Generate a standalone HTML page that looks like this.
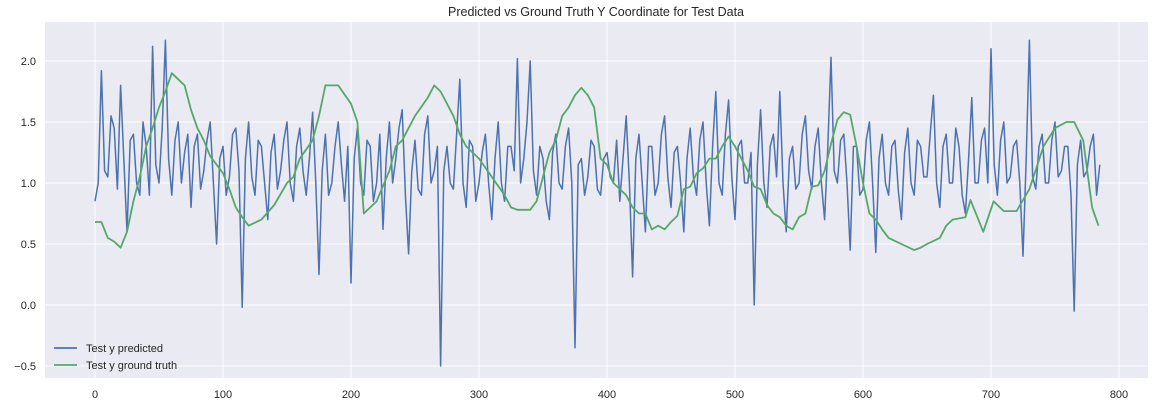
<!DOCTYPE html>
<html><head><meta charset="utf-8"><style>
html,body{margin:0;padding:0;background:#fff;}
svg{display:block;font-family:"Liberation Sans",Arial,sans-serif;}
</style></head><body>
<svg id="chart" width="1171" height="416">
<text x="596" y="16" text-anchor="middle" font-size="12.5" fill="#262626">Predicted vs Ground Truth Y Coordinate for Test Data</text>
<rect x="45" y="22" width="1103" height="356" fill="#EAEAF2"/>
<g id="grid"></g><g id="ticks"></g>
<g id="series"></g>
<g>
<line x1="54" y1="348" x2="77" y2="348" stroke="#4C72B0" stroke-width="1.8"/>
<text x="86" y="352" font-size="11" fill="#262626">Test y predicted</text>
<line x1="54" y1="365" x2="77" y2="365" stroke="#55A868" stroke-width="1.8"/>
<text x="86" y="369" font-size="11" fill="#262626">Test y ground truth</text>
</g>
</svg>
<script>
const xTicks=[0,100,200,300,400,500,600,700,800];
const yTicks=[-0.5,0.0,0.5,1.0,1.5,2.0];
const yTickLabels=["−0.5","0.0","0.5","1.0","1.5","2.0"];
const predStep=2.5;
const predicted=[0.85,1.0,1.92,1.1,1.05,1.55,1.45,0.95,1.8,1.2,0.6,1.35,1.4,1.0,0.9,1.5,1.3,0.9,2.12,1.15,1.0,1.45,2.17,1.2,0.9,1.35,1.5,1.0,1.25,1.4,0.8,1.3,1.4,0.95,1.1,1.35,1.5,1.0,0.5,1.2,1.3,0.9,1.05,1.4,1.45,1.1,-0.02,1.2,1.5,1.05,0.9,1.35,1.3,1.0,0.7,1.25,1.4,0.95,1.1,1.35,1.5,1.0,0.85,1.3,1.45,1.1,0.9,1.2,1.58,1.0,0.25,1.1,1.4,0.9,1.0,1.3,1.5,1.15,0.85,1.3,0.18,1.2,1.45,1.0,0.9,1.35,1.3,0.85,1.0,1.4,0.62,1.2,1.5,1.0,1.2,1.45,1.6,0.9,0.42,1.1,1.35,0.95,0.9,1.4,1.55,1.0,1.1,1.3,-0.5,1.1,1.3,1.0,0.95,1.4,1.85,1.0,0.8,1.35,1.3,0.85,1.0,1.25,1.4,1.0,0.7,1.2,1.5,1.0,0.85,1.3,1.3,1.1,2.02,1.0,1.2,1.5,2.0,1.1,0.9,1.3,1.2,0.85,0.7,1.25,1.4,1.0,0.95,1.3,1.45,1.0,-0.35,1.15,1.2,0.9,1.05,1.35,1.3,0.95,0.9,1.2,1.25,1.05,1.0,1.35,0.85,1.2,1.55,1.0,0.23,1.2,1.4,1.0,0.6,1.3,1.3,0.9,1.0,1.4,1.55,1.05,0.8,1.25,1.3,1.0,0.6,1.2,1.45,1.05,0.9,1.35,1.5,1.0,0.65,1.3,1.75,1.0,0.9,1.4,1.68,1.05,0.7,1.3,1.35,1.0,1.0,1.25,0.0,1.15,1.6,1.0,0.8,1.3,1.4,1.05,1.75,1.0,0.6,1.2,1.3,0.95,1.0,1.4,1.55,1.1,0.95,1.3,1.45,1.0,0.7,1.3,2.03,1.1,1.0,1.35,1.4,1.0,0.45,1.3,1.3,0.9,0.95,1.35,1.5,1.0,0.43,1.2,1.4,1.0,0.9,1.3,1.35,0.95,0.7,1.25,1.45,1.0,0.9,1.35,1.3,1.05,1.05,1.4,1.72,1.0,0.8,1.3,1.4,1.0,1.0,1.45,1.3,0.9,0.75,1.2,1.7,1.0,1.0,1.35,1.45,1.0,2.1,1.15,0.9,1.35,1.5,1.0,1.05,1.3,1.35,1.0,0.4,1.2,2.17,1.05,0.95,1.3,1.4,1.0,1.0,1.35,1.5,1.05,1.1,1.3,1.3,0.9,-0.05,1.15,1.35,1.05,1.1,1.3,1.4,0.9,1.15];
const truthX=[0,5,10,15,20,25,30,35,40,45,50,55,60,65,70,75,80,85,90,100,105,110,115,120,130,140,150,155,160,170,175,180,190,200,205,210,220,230,235,240,250,260,265,270,275,280,285,290,300,310,320,325,330,340,345,350,355,360,365,370,375,380,385,390,395,400,405,410,415,420,425,430,435,440,445,450,455,460,465,470,475,480,485,490,495,500,505,510,515,520,525,530,535,540,545,550,555,560,565,570,575,580,585,590,595,600,605,610,615,620,630,640,645,650,660,665,670,680,684,694,702,710,720,730,741,750,759,765,772,779,784];
const truthY=[0.68,0.68,0.55,0.52,0.47,0.6,0.85,1.05,1.3,1.45,1.62,1.75,1.9,1.85,1.8,1.6,1.45,1.35,1.22,1.08,0.95,0.8,0.72,0.65,0.7,0.82,1.0,1.05,1.2,1.35,1.55,1.8,1.8,1.65,1.5,0.75,0.85,1.1,1.3,1.35,1.55,1.7,1.8,1.75,1.65,1.55,1.4,1.3,1.2,1.05,0.9,0.8,0.78,0.78,0.85,1.05,1.25,1.35,1.55,1.62,1.72,1.78,1.72,1.62,1.2,1.15,1.0,0.95,0.9,0.8,0.75,0.75,0.62,0.65,0.62,0.68,0.73,0.95,0.97,1.08,1.12,1.2,1.2,1.3,1.38,1.3,1.2,1.1,0.97,0.95,0.82,0.75,0.72,0.65,0.62,0.72,0.75,0.97,0.98,1.1,1.32,1.52,1.58,1.56,1.3,1.0,0.75,0.7,0.62,0.55,0.5,0.45,0.47,0.5,0.55,0.65,0.7,0.72,0.86,0.6,0.85,0.77,0.77,0.95,1.3,1.45,1.5,1.5,1.35,0.8,0.65];

const NS="http://www.w3.org/2000/svg";
const L=45,R=1148,T=22,B=378;
function xs(v){return 95+v*1.28;}
function ys(v){return 183-(v-1)*122;}
const grid=document.getElementById('grid'),ticks=document.getElementById('ticks'),series=document.getElementById('series');
function mk(tag,attrs,parent){const e=document.createElementNS(NS,tag);for(const k in attrs)e.setAttribute(k,attrs[k]);parent.appendChild(e);return e;}
xTicks.forEach(t=>{
  const g=mk('line',{x1:xs(t),x2:xs(t),y1:T,y2:B,stroke:'#fff','stroke-width':1},grid);
  
  
  const tx=mk('text',{x:xs(t),y:398,'text-anchor':'middle','font-size':11,fill:'#262626'},ticks);
  tx.textContent=t;
  
  
});
yTicks.forEach((t,i)=>{
  const g=mk('line',{x1:L,x2:R,y1:ys(t),y2:ys(t),stroke:'#fff','stroke-width':1},grid);
  
  
  const tx=mk('text',{x:36,y:ys(t)+4,'text-anchor':'end','font-size':11,fill:'#262626'},ticks);
  tx.textContent=yTickLabels[i];
  
  
});
const pp=predicted.map((v,i)=>xs(i*predStep).toFixed(1)+','+ys(v).toFixed(1)).join(' ');
const p1=mk('polyline',{points:pp,fill:'none',stroke:'#4C72B0','stroke-width':1.5,'stroke-linejoin':'round'},series);


const tp=truthX.map((x,i)=>xs(x).toFixed(1)+','+ys(truthY[i]).toFixed(1)).join(' ');
const p2=mk('polyline',{points:tp,fill:'none',stroke:'#55A868','stroke-width':1.8,'stroke-linejoin':'round'},series);


</script>
</body></html>
